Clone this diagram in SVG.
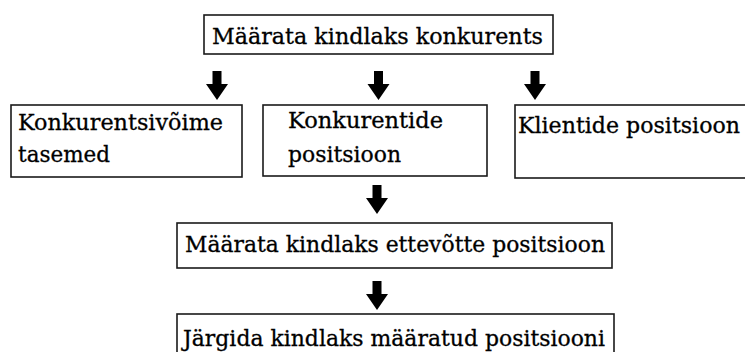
<svg xmlns="http://www.w3.org/2000/svg" xmlns:xlink="http://www.w3.org/1999/xlink" width="745" height="352" viewBox="0 0 745 352">
<style>
.box{fill:#fff;stroke:#1a1a1a;stroke-width:1.6}
.arr{fill:#000}
.t{font-family:"DejaVu Serif","Liberation Serif",serif;font-size:22px;fill:#000;stroke:#000;stroke-width:0.3}
</style>
<defs>
<path id="arrow" d="M-4.5,0 H4.5 V13 H11 L0,29 L-11,13 H-4.5 Z"/>
</defs>
<rect width="745" height="352" fill="#fff"/>
<g id="connectors" class="arr">
<use xlink:href="#arrow" transform="translate(217,71)"/>
<use xlink:href="#arrow" transform="translate(378.5,71)"/>
<use xlink:href="#arrow" transform="translate(535,71)"/>
<use xlink:href="#arrow" transform="translate(377,185)"/>
<use xlink:href="#arrow" transform="translate(377,281)"/>
</g>
<g id="n1"><rect class="box" x="204" y="15" width="349" height="39"/>
<text class="t" x="212" y="44" textLength="331" lengthAdjust="spacingAndGlyphs">Määrata kindlaks konkurents</text></g>
<g id="n2"><rect class="box" x="11" y="105" width="231" height="72"/>
<text class="t" x="18" y="130" textLength="205" lengthAdjust="spacingAndGlyphs">Konkurentsivõime</text>
<text class="t" x="18" y="162" textLength="92" lengthAdjust="spacingAndGlyphs">tasemed</text></g>
<g id="n3"><rect class="box" x="263" y="105" width="224" height="71"/>
<text class="t" x="288" y="128" textLength="155" lengthAdjust="spacingAndGlyphs">Konkurentide</text>
<text class="t" x="288" y="162" textLength="113" lengthAdjust="spacingAndGlyphs">positsioon</text></g>
<g id="n4"><rect class="box" x="515" y="105" width="240" height="73"/>
<text class="t" x="518" y="133" textLength="222" lengthAdjust="spacingAndGlyphs">Klientide positsioon</text></g>
<g id="n5"><rect class="box" x="177" y="223" width="435" height="45"/>
<text class="t" x="185" y="252" textLength="420" lengthAdjust="spacingAndGlyphs">Määrata kindlaks ettevõtte positsioon</text></g>
<g id="n6"><rect class="box" x="177" y="314" width="437" height="50"/>
<text class="t" x="183" y="346" textLength="422" lengthAdjust="spacingAndGlyphs">Järgida kindlaks määratud positsiooni</text></g>
</svg>
